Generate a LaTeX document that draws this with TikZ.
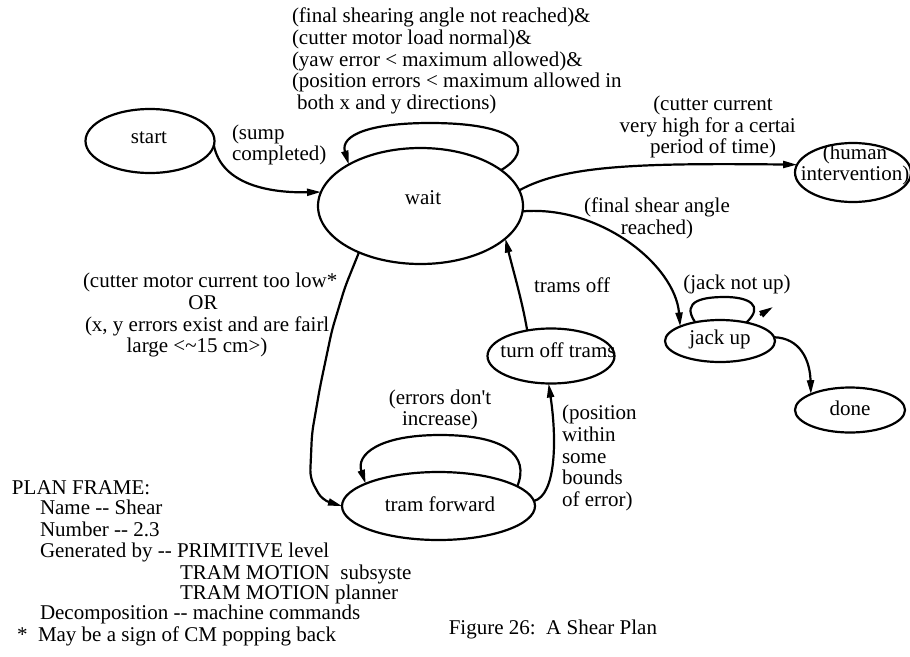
\documentclass[tikz,border=0pt]{standalone}
\usepackage{fontspec}
\setmainfont{Liberation Serif}
\usetikzlibrary{arrows.meta,shapes.geometric}
\begin{document}
\begin{tikzpicture}[x=1pt,y=-1pt,
  every node/.style={font=\fontsize{21}{21.8}\selectfont, inner sep=0pt, outer sep=0pt},
  state/.style={draw, ellipse, line width=2.2pt, inner sep=0pt, outer sep=0pt},
  txt/.style={execute at begin node=\strut, execute at end node=\strut},
  edge/.style={line width=2.2pt, -{Triangle[length=14pt,width=7pt]}},
  plain/.style={line width=2.2pt},
]
\useasboundingbox (0,0) rectangle (910,656);

% states
\node[state, minimum width=129pt, minimum height=64pt] (start) at (150,141) {};
\node[txt] (tstart) at (149,139) {start};
\node[state, minimum width=205pt, minimum height=116pt] (wait) at (420.5,206) {};
\node[txt] (twait) at (423,200) {wait};
\node[state, minimum width=116pt, minimum height=59pt] (human) at (853,172.5) {};
\node[txt, align=center] (thuman) at (855,166) {(human\\intervention)};
\node[state, minimum width=110pt, minimum height=42pt] (jackup) at (720,341) {};
\node[txt] (tjackup) at (720,340) {jack up};
\node[state, minimum width=110pt, minimum height=45pt] (done) at (850,410) {};
\node[txt] (tdone) at (850,411) {done};
\node[state, minimum width=127pt, minimum height=55pt] (turnoff) at (551,356) {};
\node[txt] (tturnoff) at (558,353) {turn off trams};
\node[state, minimum width=193pt, minimum height=68pt] (tramf) at (438.5,506) {};
\node[txt] (ttramf) at (440,507) {tram forward};

% transitions
\draw[edge] (start.-4) .. controls (222,185) and (270,193) .. (wait.172);
\draw[edge] (wait.24) .. controls (535,150) and (522,123) .. (430,123)
  .. controls (370,123) and (340,135) .. (wait.150);
\draw[edge] (wait.9) .. controls (565,165) and (640,163) .. (human.172);
\draw[edge] (wait.-3) .. controls (600,205) and (675,265) .. (jackup.160);
\draw[edge] (turnoff.133) .. controls (522,300) and (513,270) .. (wait.-21);
\draw[edge, rounded corners=8pt] (wait.-143) -- (345,287) -- (332,330) -- (320,387)
  -- (312,433) -- (310,478) -- (322,500) -- (tramf.180);
\draw[edge] (tramf.14) .. controls (530,455) and (505,435) .. (440,435)
  .. controls (378,435) and (356,455) .. (tramf.163);
\draw[edge] (tramf.3) .. controls (556,495) and (557,440) .. (turnoff.-95);
\draw[plain] (jackup.143) .. controls (680,300) and (705,297) .. (725,297)
  .. controls (748,297) and (765,305) .. (jackup.35);
\coordinate (jtail) at (760,315);
\coordinate (jtip) at (773,307);
\draw[edge] (jtail) -- (jtip);
\draw[edge] (jackup.4) .. controls (800,338) and (810,360) .. (done.158);

% transition conditions
\node[txt, anchor=west, align=left] (cwait) at (292,62)
  {(final shearing angle not reached)\&\\(cutter motor load normal)\&\\(yaw error < maximum allowed)\&\\(position errors < maximum allowed in\\\hspace{5pt}both x and y directions)};
\node[txt, anchor=west, align=left] (csump) at (232,146) {(sump\\completed)};
\node[txt, align=center] (ccurrent) at (713,128)
  {(cutter current\\very high for a certai\phantom{n}\\period of time)};
\node[txt, align=center] (cangle) at (657,219) {(final shear angle\\reached)};
\node[txt] (cjack) at (737,285) {(jack not up)};
\node[txt] (ctrams) at (572,288) {trams off};
\node[txt, align=center] (cerrors) at (440,411) {(errors don\textquotesingle t\\increase)};
\node[txt, anchor=west, align=left] (cbounds) at (562,459)
  {(position\\within\\some\\bounds\\of error)};
\node[txt, anchor=west] (clowA) at (83,283) {(cutter motor current too low*};
\node[txt] (clowB) at (203,305) {OR};
\node[txt, anchor=west] (clowC) at (85,327) {(x, y errors exist and are fairl};
\node[txt] (clowD) at (197,348) {large <\textasciitilde 15 cm>)};

% plan frame
\node[txt, anchor=west] (pf1) at (12,490) {PLAN FRAME:};
\node[txt, anchor=west] (pf2) at (40,510) {Name -{}- Shear};
\node[txt, anchor=west] (pf3) at (40,532) {Number -{}- 2.3};
\node[txt, anchor=west] (pf4) at (40,553) {Generated by -{}- PRIMITIVE level};
\node[txt, anchor=west] (pf5) at (180,575) {TRAM MOTION\ \ subsyste};
\node[txt, anchor=west] (pf6) at (180,595) {TRAM MOTION planner};
\node[txt, anchor=west] (pf7) at (40,615) {Decomposition -{}- machine commands};
\node[txt, anchor=west] (pf8) at (17,637) {*\ \ May be a sign of CM popping back};

% caption
\node[txt, anchor=east] (caption) at (657,630) {Figure 26:\ \ A Shear Plan};
\end{tikzpicture}
\end{document}
